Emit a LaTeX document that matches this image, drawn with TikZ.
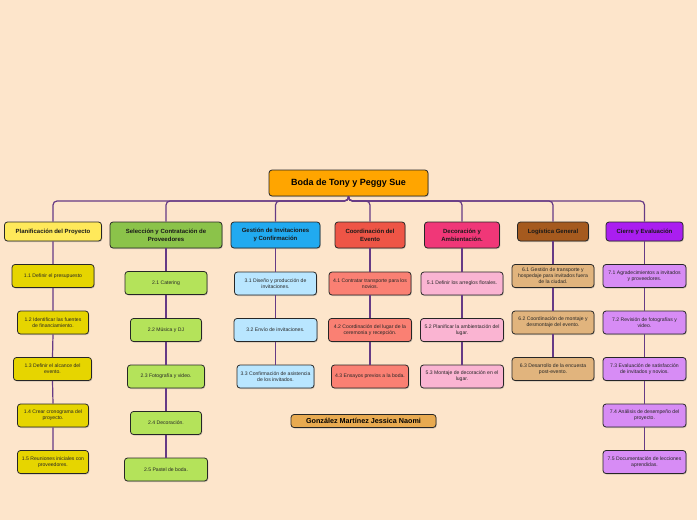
\documentclass[tikz,border=0pt]{standalone}
\usepackage{fontspec}
\setmainfont{Liberation Sans}
\usetikzlibrary{shadows}
\definecolor{bg}{HTML}{FDE5CB}
\definecolor{conn}{HTML}{663A85}
\definecolor{croot}{HTML}{FFA500}
\definecolor{cA}{HTML}{FFE95A}
\definecolor{cB}{HTML}{8BC34A}
\definecolor{cC}{HTML}{21AAF0}
\definecolor{cD}{HTML}{EE5546}
\definecolor{cE}{HTML}{F03778}
\definecolor{cF}{HTML}{A55A1E}
\definecolor{cG}{HTML}{AA1EF0}
\definecolor{lA}{HTML}{E6D500}
\definecolor{lB}{HTML}{B4E35A}
\definecolor{lC}{HTML}{B9E6FF}
\definecolor{lD}{HTML}{FA8073}
\definecolor{lE}{HTML}{FAB4D2}
\definecolor{lF}{HTML}{E1B47D}
\definecolor{lG}{HTML}{D78CF5}
\definecolor{cauth}{HTML}{E8AA50}
\tikzset{
  box/.style={draw=black!85, line width=0.8pt, rounded corners=3pt, inner sep=0pt, align=center,
    drop shadow={shadow xshift=0.8pt, shadow yshift=-1pt, opacity=0.35}},
  rootbox/.style={box, fill=croot, minimum width=159pt, minimum height=26pt, font=\fontsize{9}{11}\selectfont\bfseries},
  topbox/.style={box, minimum height=#1, font=\fontsize{6}{8}\selectfont\bfseries, text=black!90},
  leaf/.style={box, minimum height=23pt, font=\fontsize{5.1}{6}\selectfont, text=black!85},
  authbox/.style={box, fill=cauth, minimum width=145pt, minimum height=13pt, font=\fontsize{7.2}{8}\selectfont\bfseries},
  link/.style={draw=conn, line width=1.2pt, rounded corners=4pt},
}
\begin{document}
\begin{tikzpicture}[x=1pt,y=-1pt]
\fill[bg] (0,0) rectangle (697,520);
\useasboundingbox (0,0) rectangle (697,520);

\node[rootbox] (root) at (348.5,183) {Boda de Tony y Peggy Sue};

\node[topbox=19pt, fill=cA, minimum width=97pt] (p1) at (53,231.5) {Planificación del Proyecto};
\node[topbox=26pt, fill=cB, minimum width=112pt] (p2) at (166,235) {Selección y Contratación de\\Proveedores};
\node[topbox=26pt, fill=cC, minimum width=89pt] (p3) at (275.5,235) {Gestión de Invitaciones\\y Confirmación};
\node[topbox=26pt, fill=cD, minimum width=70pt] (p4) at (370,235) {Coordinación del\\Evento};
\node[topbox=26pt, fill=cE, minimum width=75pt] (p5) at (462,235) {Decoración y\\Ambientación.};
\node[topbox=19pt, fill=cF, minimum width=71pt] (p6) at (553,231.5) {Logística General};
\node[topbox=19pt, fill=cG, minimum width=77pt] (p7) at (644.5,231.5) {Cierre y Evaluación};

\coordinate (bus) at (348.5,201);
\foreach \c in {p1,p2,p3,p4,p5,p6,p7}{
  \draw[link] (root.south) -- (root.south |- bus) -| (\c.north);
}

% column 1
\node[leaf, fill=lA, minimum width=82pt] (a1) at (53,276) {1.1 Definir el presupuesto};
\node[leaf, fill=lA, minimum width=71pt] (a2) at (53,322.5) {1.2 Identificar las fuentes\\de financiamiento.};
\node[leaf, fill=lA, minimum width=78pt] (a3) at (52.5,369) {1.3 Definir el alcance del\\evento.};
\node[leaf, fill=lA, minimum width=71pt] (a4) at (53,415.5) {1.4 Crear cronograma del\\proyecto.};
\node[leaf, fill=lA, minimum width=71pt] (a5) at (53,462) {1.5 Reuniones iniciales con\\proveedores.};
% column 2
\node[leaf, fill=lB, minimum width=82pt] (b1) at (166,283) {2.1 Catering};
\node[leaf, fill=lB, minimum width=71pt] (b2) at (166,330) {2.2 Música y DJ};
\node[leaf, fill=lB, minimum width=77pt] (b3) at (166,376.5) {2.3 Fotografía y video.};
\node[leaf, fill=lB, minimum width=71pt] (b4) at (166,423) {2.4 Decoración.};
\node[leaf, fill=lB, minimum width=83pt] (b5) at (166,469.5) {2.5 Pastel de boda.};
% column 3
\node[leaf, fill=lC, minimum width=82pt] (c1) at (275.5,283.5) {3.1 Diseño y producción de\\invitaciones.};
\node[leaf, fill=lC, minimum width=83pt] (c2) at (275.5,330) {3.2 Envío de invitaciones.};
\node[leaf, fill=lC, minimum width=77pt] (c3) at (275.5,376.5) {3.3 Confirmación de asistencia\\de los invitados.};
% column 4
\node[leaf, fill=lD, minimum width=82pt] (d1) at (370,283.5) {4.1 Contratar transporte para los\\novios.};
\node[leaf, fill=lD, minimum width=83pt] (d2) at (370,330) {4.2 Coordinación del lugar de la\\ceremonia y recepción.};
\node[leaf, fill=lD, minimum width=77pt] (d3) at (370,376.5) {4.3 Ensayos previos a la boda.};
% column 5
\node[leaf, fill=lE, minimum width=82pt] (e1) at (462,283.5) {5.1 Definir los arreglos florales.};
\node[leaf, fill=lE, minimum width=83pt] (e2) at (462,330) {5.2 Planificar la ambientación del\\lugar.};
\node[leaf, fill=lE, minimum width=83pt] (e3) at (462,376.5) {5.3 Montaje de decoración en el\\lugar.};
% column 6
\node[leaf, fill=lF, minimum width=82pt] (f1) at (553,276) {6.1 Gestión de transporte y\\hospedaje para invitados fuera\\de la ciudad.};
\node[leaf, fill=lF, minimum width=82pt] (f2) at (553,322.5) {6.2 Coordinación de montaje y\\desmontaje del evento.};
\node[leaf, fill=lF, minimum width=82pt] (f3) at (553,369) {6.3 Desarrollo de la encuesta\\post-evento.};
% column 7
\node[leaf, fill=lG, minimum width=83pt] (g1) at (644.5,276) {7.1 Agradecimientos a invitados\\y proveedores.};
\node[leaf, fill=lG, minimum width=83pt] (g2) at (644.5,322.5) {7.2 Revisión de fotografías y\\video.};
\node[leaf, fill=lG, minimum width=83pt] (g3) at (644.5,369) {7.3 Evaluación de satisfacción\\de invitados y novios.};
\node[leaf, fill=lG, minimum width=83pt] (g4) at (644.5,415.5) {7.4 Análisis de desempeño del\\proyecto.};
\node[leaf, fill=lG, minimum width=83pt] (g5) at (644.5,462) {7.5 Documentación de lecciones\\aprendidas.};

\node[authbox] (auth) at (363.5,421) {González Martínez Jessica Naomi};

\draw[link] (p1.south) -- (a1.north) (a1.south) -- (a2.north) (a2.south) -- (a3.north) (a3.south) -- (a4.north) (a4.south) -- (a5.north);
\draw[link] (p2.south) -- (b1.north) (b1.south) -- (b2.north) (b2.south) -- (b3.north) (b3.south) -- (b4.north) (b4.south) -- (b5.north);
\draw[link] (p3.south) -- (c1.north) (c1.south) -- (c2.north) (c2.south) -- (c3.north);
\draw[link] (p4.south) -- (d1.north) (d1.south) -- (d2.north) (d2.south) -- (d3.north);
\draw[link] (p5.south) -- (e1.north) (e1.south) -- (e2.north) (e2.south) -- (e3.north);
\draw[link] (p6.south) -- (f1.north) (f1.south) -- (f2.north) (f2.south) -- (f3.north);
\draw[link] (p7.south) -- (g1.north) (g1.south) -- (g2.north) (g2.south) -- (g3.north) (g3.south) -- (g4.north) (g4.south) -- (g5.north);
\end{tikzpicture}
\end{document}
